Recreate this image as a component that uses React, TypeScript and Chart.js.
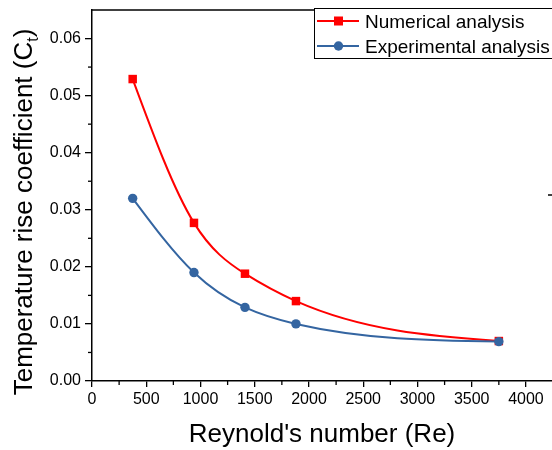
import React, { useEffect, useRef } from "react";
import { Chart, registerables } from "chart.js";

Chart.register(...registerables);

const RE_VALUES = [375, 940, 1410, 1880, 3750];
const NUMERICAL = [0.0529, 0.0277, 0.0188, 0.0140, 0.0070];
const EXPERIMENTAL = [0.0320, 0.0190, 0.0129, 0.0100, 0.0069];
const SERIES_LABELS = ["Numerical analysis", "Experimental analysis"];
const X_TICKS = [0, 500, 1000, 1500, 2000, 2500, 3000, 3500, 4000];
const Y_TICKS = [0, 0.01, 0.02, 0.03, 0.04, 0.05, 0.06];
const X_TITLE = "Reynold's number (Re)";
const Y_TITLE_MAIN = "Temperature rise coefficient (C";
const Y_TITLE_SUB = "t";
const Y_TITLE_END = ")";

const RED = "#FF0000";
const BLUE = "#3465A1";
const FONT = "'Liberation Sans', Arial, sans-serif";

// Natural cubic spline through the points placed by the scales (like Origin's "Spline" connector)
const naturalSplinePlugin = {
  id: "naturalSpline",
  beforeDatasetDraw(chart: any, args: any) {
    const meta = args.meta;
    const line = meta.dataset;
    const pts = meta.data;
    const n = pts.length;
    if (!line || n < 3) return;
    line.updateControlPoints(chart.chartArea, meta.iScale.axis);
    const xs = pts.map((p: any) => p.x);
    const ys = pts.map((p: any) => p.y);
    const h: number[] = [];
    const s: number[] = [];
    for (let i = 0; i < n - 1; i++) {
      h[i] = xs[i + 1] - xs[i];
      s[i] = (ys[i + 1] - ys[i]) / h[i];
    }
    const M = new Array(n).fill(0);
    const a: number[] = [], b: number[] = [], c: number[] = [], d: number[] = [];
    for (let i = 1; i <= n - 2; i++) {
      a[i] = h[i - 1];
      b[i] = 2 * (h[i - 1] + h[i]);
      c[i] = h[i];
      d[i] = 6 * (s[i] - s[i - 1]);
    }
    for (let i = 2; i <= n - 2; i++) {
      const w = a[i] / b[i - 1];
      b[i] -= w * c[i - 1];
      d[i] -= w * d[i - 1];
    }
    M[n - 2] = d[n - 2] / b[n - 2];
    for (let i = n - 3; i >= 1; i--) M[i] = (d[i] - c[i] * M[i + 1]) / b[i];
    const m: number[] = [];
    for (let i = 0; i < n - 1; i++) m[i] = s[i] - (h[i] * (2 * M[i] + M[i + 1])) / 6;
    m[n - 1] = s[n - 2] + (h[n - 2] * (2 * M[n - 1] + M[n - 2])) / 6;
    for (let i = 0; i < n; i++) {
      const p = pts[i];
      if (i > 0) {
        p.cp1x = xs[i] - h[i - 1] / 3;
        p.cp1y = ys[i] - (m[i] * h[i - 1]) / 3;
      } else {
        p.cp1x = xs[i];
        p.cp1y = ys[i];
      }
      if (i < n - 1) {
        p.cp2x = xs[i] + h[i] / 3;
        p.cp2y = ys[i] + (m[i] * h[i]) / 3;
      } else {
        p.cp2x = xs[i];
        p.cp2y = ys[i];
      }
    }
  },
};

const decorPlugin = {
  id: "decor",
  afterDraw(chart: any) {
    const ctx = chart.ctx;
    const xs = chart.scales.x;
    const ys = chart.scales.y;
    const a = chart.chartArea;
    ctx.save();
    ctx.strokeStyle = "#000";
    ctx.lineWidth = 1.5;
    ctx.beginPath();
    ctx.moveTo(a.left, a.top);
    ctx.lineTo(chart.width, a.top);
    ctx.stroke();
    // small stray tick near the right edge (cut-off right axis)
    ctx.beginPath();
    ctx.moveTo(548, 195);
    ctx.lineTo(552, 195);
    ctx.stroke();
    ctx.lineWidth = 1.3;
    for (let v = 250; v < xs.max; v += 500) {
      const px = xs.getPixelForValue(v);
      ctx.beginPath();
      ctx.moveTo(px, a.bottom);
      ctx.lineTo(px, a.bottom + 4);
      ctx.stroke();
    }
    for (let v = 0.005; v < ys.max; v += 0.01) {
      const py = ys.getPixelForValue(v);
      ctx.beginPath();
      ctx.moveTo(a.left - 4, py);
      ctx.lineTo(a.left, py);
      ctx.stroke();
    }
    ctx.fillStyle = "#000";
    ctx.font = `26px ${FONT}`;
    ctx.textAlign = "center";
    ctx.textBaseline = "alphabetic";
    ctx.fillText(X_TITLE, (a.left + a.right) / 2, 442);
    ctx.save();
    ctx.translate(32, 212);
    ctx.rotate(-Math.PI / 2);
    ctx.textAlign = "left";
    ctx.font = `26px ${FONT}`;
    const w1 = ctx.measureText(Y_TITLE_MAIN).width;
    const w3 = ctx.measureText(Y_TITLE_END).width;
    ctx.font = `16px ${FONT}`;
    const w2 = ctx.measureText(Y_TITLE_SUB).width;
    const total = w1 + w2 + w3;
    let x0 = -total / 2;
    ctx.font = `26px ${FONT}`;
    ctx.fillText(Y_TITLE_MAIN, x0, 0);
    x0 += w1;
    ctx.font = `16px ${FONT}`;
    ctx.fillText(Y_TITLE_SUB, x0, 6);
    x0 += w2;
    ctx.font = `26px ${FONT}`;
    ctx.fillText(Y_TITLE_END, x0, 0);
    ctx.restore();
    ctx.fillStyle = "#fff";
    ctx.fillRect(314, 8, 240, 50);
    ctx.strokeStyle = "#000";
    ctx.lineWidth = 1;
    ctx.strokeRect(314.5, 8.5, 240, 50);
    const rows = [
      { label: SERIES_LABELS[0], color: RED, y: 21, shape: "rect" },
      { label: SERIES_LABELS[1], color: BLUE, y: 46, shape: "circle" },
    ];
    ctx.font = `19px ${FONT}`;
    ctx.textAlign = "left";
    ctx.textBaseline = "alphabetic";
    for (const r of rows) {
      ctx.strokeStyle = r.color;
      ctx.lineWidth = 2;
      ctx.beginPath();
      ctx.moveTo(317, r.y);
      ctx.lineTo(359, r.y);
      ctx.stroke();
      ctx.fillStyle = r.color;
      if (r.shape === "rect") {
        ctx.fillRect(334, r.y - 4.5, 9, 9);
      } else {
        ctx.beginPath();
        ctx.arc(338.5, r.y, 4.7, 0, Math.PI * 2);
        ctx.fill();
      }
      ctx.fillStyle = "#000";
      ctx.fillText(r.label, 365, r.y + 6.5);
    }
    ctx.restore();
  },
};

export default function App() {
  const ref = useRef<HTMLCanvasElement | null>(null);
  useEffect(() => {
    if (!ref.current) return;
    const chart = new Chart(ref.current, {
      type: "line",
      data: {
        datasets: [
          {
            label: SERIES_LABELS[0],
            data: RE_VALUES.map((x, i) => ({ x, y: NUMERICAL[i] })),
            borderColor: RED,
            backgroundColor: RED,
            borderWidth: 2,
            pointStyle: "rect",
            pointRadius: 6,
            pointBorderWidth: 0,
            tension: 0.4,
            order: 1,
          },
          {
            label: SERIES_LABELS[1],
            data: RE_VALUES.map((x, i) => ({ x, y: EXPERIMENTAL[i] })),
            borderColor: BLUE,
            backgroundColor: BLUE,
            borderWidth: 2,
            pointStyle: "circle",
            pointRadius: 4.7,
            pointBorderWidth: 0,
            tension: 0.4,
            order: 0,
          },
        ],
      },
      options: {
        responsive: false,
        animation: false,
        layout: { autoPadding: false, padding: { top: 10, left: 0, right: 0, bottom: 0 } },
        plugins: { legend: { display: false }, tooltip: { enabled: false } },
        scales: {
          x: {
            type: "linear",
            min: 0,
            max: 4240,
            afterBuildTicks: (s: any) => {
              s.ticks = X_TICKS.map((v) => ({ value: v }));
            },
            ticks: {
              color: "#000",
              font: { family: FONT, size: 16 },
              padding: 3,
              maxRotation: 0,
              autoSkip: false,
              callback: (v: any) => String(v),
            },
            grid: { drawOnChartArea: false, drawTicks: true, tickLength: 6, color: "#000", lineWidth: 1.3 },
            border: { display: true, color: "#000", width: 1.5 },
            afterFit: (s: any) => {
              s.height = 69;
              s.paddingLeft = 0;
              s.paddingRight = 0;
            },
          },
          y: {
            type: "linear",
            min: 0,
            max: 0.065,
            afterBuildTicks: (s: any) => {
              s.ticks = Y_TICKS.map((v) => ({ value: v }));
            },
            ticks: {
              color: "#000",
              font: { family: FONT, size: 16 },
              padding: 4,
              autoSkip: false,
              callback: (v: any) => Number(v).toFixed(2),
            },
            grid: { drawOnChartArea: false, drawTicks: true, tickLength: 7, color: "#000", lineWidth: 1.3 },
            border: { display: true, color: "#000", width: 1.5 },
            afterFit: (s: any) => {
              s.width = 92;
              s.paddingTop = 0;
              s.paddingBottom = 0;
            },
          },
        },
      },
      plugins: [naturalSplinePlugin, decorPlugin],
    });
    return () => chart.destroy();
  }, []);
  return (
    <div style={{ position: "absolute", left: 0, top: 0, width: 552, height: 450, background: "#fff" }}>
      <canvas ref={ref} width={552} height={450} />
    </div>
  );
}
